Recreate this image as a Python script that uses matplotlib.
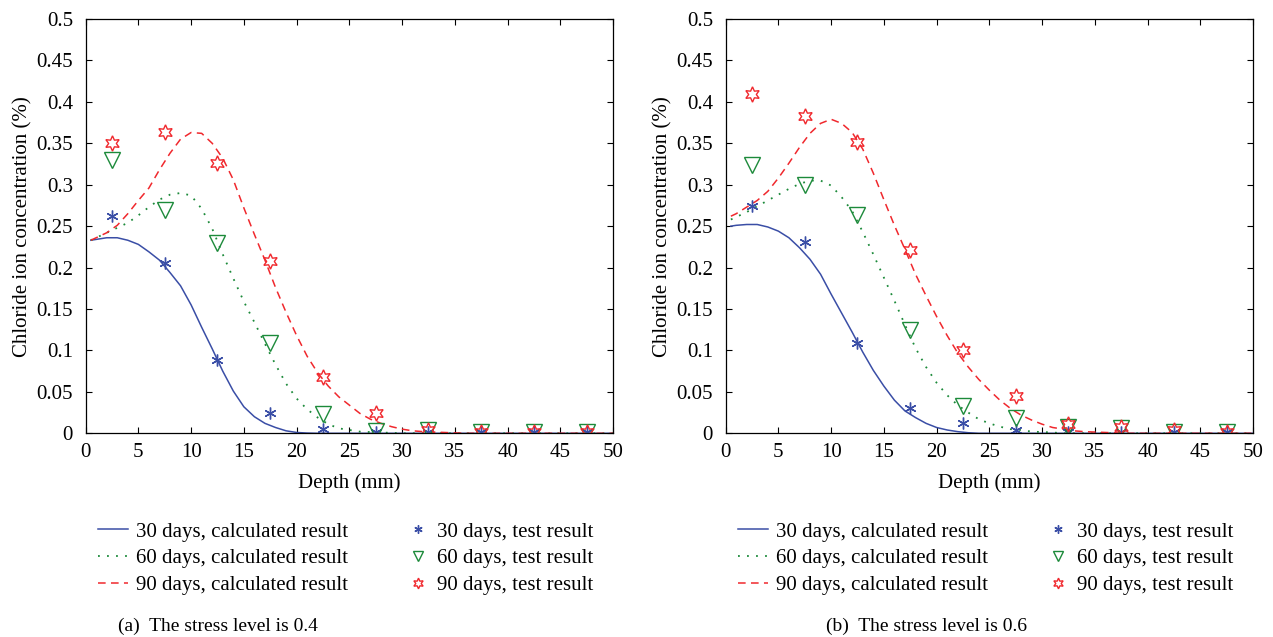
import matplotlib
matplotlib.use('Agg')
import numpy as np
import matplotlib.pyplot as plt
from matplotlib.lines import Line2D

plt.rcParams['font.family'] = ['Liberation Serif', 'DejaVu Serif']
plt.rcParams['xtick.direction'] = 'in'
plt.rcParams['ytick.direction'] = 'in'

# calculated curves, depth in mm
depth = [0.5, 1, 2, 3, 4, 5, 6, 7, 8, 9, 10, 11, 12, 13, 14, 15, 16, 17, 18, 19,
         20, 21, 22, 23, 24, 25, 26, 27, 28, 29, 30, 31, 32, 33, 34, 36, 38, 40, 45, 50]

# (a) stress level 0.4
a_calc30 = [0.233, 0.234, 0.236, 0.236, 0.233, 0.228, 0.219, 0.209, 0.194, 0.178, 0.155,
            0.128, 0.102, 0.075, 0.051, 0.032, 0.020, 0.012, 0.007, 0.003, 0.001, 0.0003,
            0, 0, 0, 0, 0, 0, 0, 0, 0, 0, 0, 0, 0, 0, 0, 0, 0, 0]
a_calc60 = [0.233, 0.236, 0.242, 0.248, 0.254, 0.263, 0.273, 0.282, 0.288, 0.290, 0.287,
            0.271, 0.247, 0.216, 0.187, 0.159, 0.134, 0.108, 0.083, 0.060, 0.042, 0.029,
            0.019, 0.011, 0.006, 0.004, 0.002, 0.0015, 0.001, 0.0005, 0, 0, 0, 0, 0, 0,
            0, 0, 0, 0]
a_calc90 = [0.233, 0.236, 0.242, 0.251, 0.265, 0.281, 0.296, 0.318, 0.338, 0.355, 0.363,
            0.362, 0.350, 0.332, 0.306, 0.272, 0.240, 0.209, 0.176, 0.146, 0.118, 0.093,
            0.073, 0.057, 0.044, 0.034, 0.024, 0.017, 0.012, 0.008, 0.005, 0.003, 0.002,
            0.0015, 0.001, 0, 0, 0, 0, 0]

# (b) stress level 0.6
b_calc30 = [0.250, 0.251, 0.252, 0.252, 0.249, 0.244, 0.236, 0.224, 0.210, 0.192, 0.168,
            0.145, 0.122, 0.098, 0.076, 0.057, 0.040, 0.027, 0.019, 0.012, 0.007, 0.004,
            0.002, 0.0007, 0, 0, 0, 0, 0, 0, 0, 0, 0, 0, 0, 0, 0, 0, 0, 0]
b_calc60 = [0.258, 0.261, 0.267, 0.274, 0.281, 0.288, 0.295, 0.301, 0.305, 0.305, 0.299,
            0.285, 0.268, 0.243, 0.216, 0.188, 0.160, 0.131, 0.103, 0.080, 0.061, 0.046,
            0.034, 0.025, 0.017, 0.012, 0.008, 0.005, 0.004, 0.002, 0.0015, 0.001, 0,
            0, 0, 0, 0, 0, 0, 0]
b_calc90 = [0.262, 0.265, 0.273, 0.281, 0.292, 0.308, 0.326, 0.345, 0.362, 0.374, 0.379,
            0.374, 0.363, 0.343, 0.314, 0.282, 0.251, 0.222, 0.192, 0.166, 0.141, 0.118,
            0.097, 0.080, 0.065, 0.052, 0.040, 0.030, 0.022, 0.016, 0.011, 0.007, 0.005,
            0.003, 0.002, 0.001, 0, 0, 0, 0]

# test results
test_depth = [2.5, 7.5, 12.5, 17.5, 22.5, 27.5, 32.5, 37.5, 42.5, 47.5]
a_test30 = [0.262, 0.205, 0.089, 0.024, 0.005, 0.002, 0.001, 0.001, 0.001, 0.001]
a_test60 = [0.330, 0.269, 0.230, 0.109, 0.023, 0.003, 0.004, 0.001, 0.001, 0.001]
a_test90 = [0.350, 0.364, 0.326, 0.208, 0.068, 0.025, 0.004, 0.001, 0.001, 0.001]
b_test30 = [0.274, 0.231, 0.109, 0.030, 0.013, 0.004, 0.001, 0.001, 0.001, 0.001]
b_test60 = [0.324, 0.300, 0.263, 0.125, 0.033, 0.019, 0.008, 0.006, 0.002, 0.002]
b_test90 = [0.410, 0.383, 0.351, 0.221, 0.100, 0.045, 0.011, 0.007, 0.004, 0.002]

line_labels = ['30 days, calculated result', '60 days, calculated result',
               '90 days, calculated result']
test_labels = ['30 days, test result', '60 days, test result', '90 days, test result']
captions = ['(a)  The stress level is 0.4', '(b)  The stress level is 0.6']

blue = '#3a4ea6'
green = '#1c8a3a'
red = '#f0282d'
styles = [dict(color=blue, ls='-', lw=1.1),
          dict(color=green, ls=(0, (1, 4)), lw=1.3),
          dict(color=red, ls=(0, (5, 3.5)), lw=1.1)]
marks = [dict(marker=(6, 2, 0), color=blue, ms=8.5, mew=1.0, ls='none'),
         dict(marker='v', color=green, mfc='none', ms=11, mew=1.0, ls='none'),
         dict(marker=(6, 1, 0), color=red, mfc='none', ms=11, mew=1.0, ls='none')]

W, H = 1273, 637
fig = plt.figure(figsize=(W / 100, H / 100), dpi=100)
FS = 15


def panel(x0, calc, tests):
    ax = fig.add_axes([x0 / W, 1 - 433.3 / H, 527.5 / W, 414.3 / H])
    for y, st in zip(calc, styles):
        ax.plot(depth, y, **st)
    for y, mk in zip(tests, marks):
        ax.plot(test_depth, y, **mk)
    ax.set_xlim(0, 50)
    ax.set_ylim(0, 0.5)
    ax.set_xticks(np.arange(0, 51, 5))
    ax.set_yticks(np.arange(0, 0.51, 0.05))
    ax.set_yticklabels(['0', '0.05', '0.1', '0.15', '0.2', '0.25', '0.3', '0.35',
                        '0.4', '0.45', '0.5'])
    ax.tick_params(top=True, right=True, length=4, width=0.8, labelsize=FS)
    ax.tick_params(axis='x', pad=7)
    ax.tick_params(axis='y', pad=9)
    for s in ax.spines.values():
        s.set_linewidth(0.9)
    ax.set_xlabel('Depth (mm)', fontsize=FS, labelpad=8)
    ax.set_ylabel('Chloride ion concentration (%)', fontsize=FS, labelpad=3)

    h1 = [Line2D([], [], **st) for st in styles]
    h2 = [Line2D([], [], **dict(mk, ms=mk['ms'] * 0.7)) for mk in marks]
    lg1 = ax.legend(h1, line_labels, loc='upper left', frameon=False,
                    bbox_to_anchor=((x0 + 12) / W, 1 - 522 / H),
                    bbox_transform=fig.transFigure, fontsize=FS, borderpad=0,
                    borderaxespad=0, handlelength=1.45, handletextpad=0.4,
                    labelspacing=0.35)
    ax.add_artist(lg1)
    ax.legend(h2, test_labels, loc='upper left', frameon=False,
              bbox_to_anchor=((x0 + 320) / W, 1 - 522 / H),
              bbox_transform=fig.transFigure, fontsize=FS, borderpad=0,
              borderaxespad=0, handlelength=1.2, handletextpad=0.3,
              labelspacing=0.35)
    return ax


panel(85.6, [a_calc30, a_calc60, a_calc90], [a_test30, a_test60, a_test90])
panel(725.6, [b_calc30, b_calc60, b_calc90], [b_test30, b_test60, b_test90])

fig.text(118 / W, 1 - 626 / H, captions[0], fontsize=14, va='center', ha='left')
fig.text(826 / W, 1 - 626 / H, captions[1], fontsize=14, va='center', ha='left')

fig.savefig('out.png', dpi=100)
